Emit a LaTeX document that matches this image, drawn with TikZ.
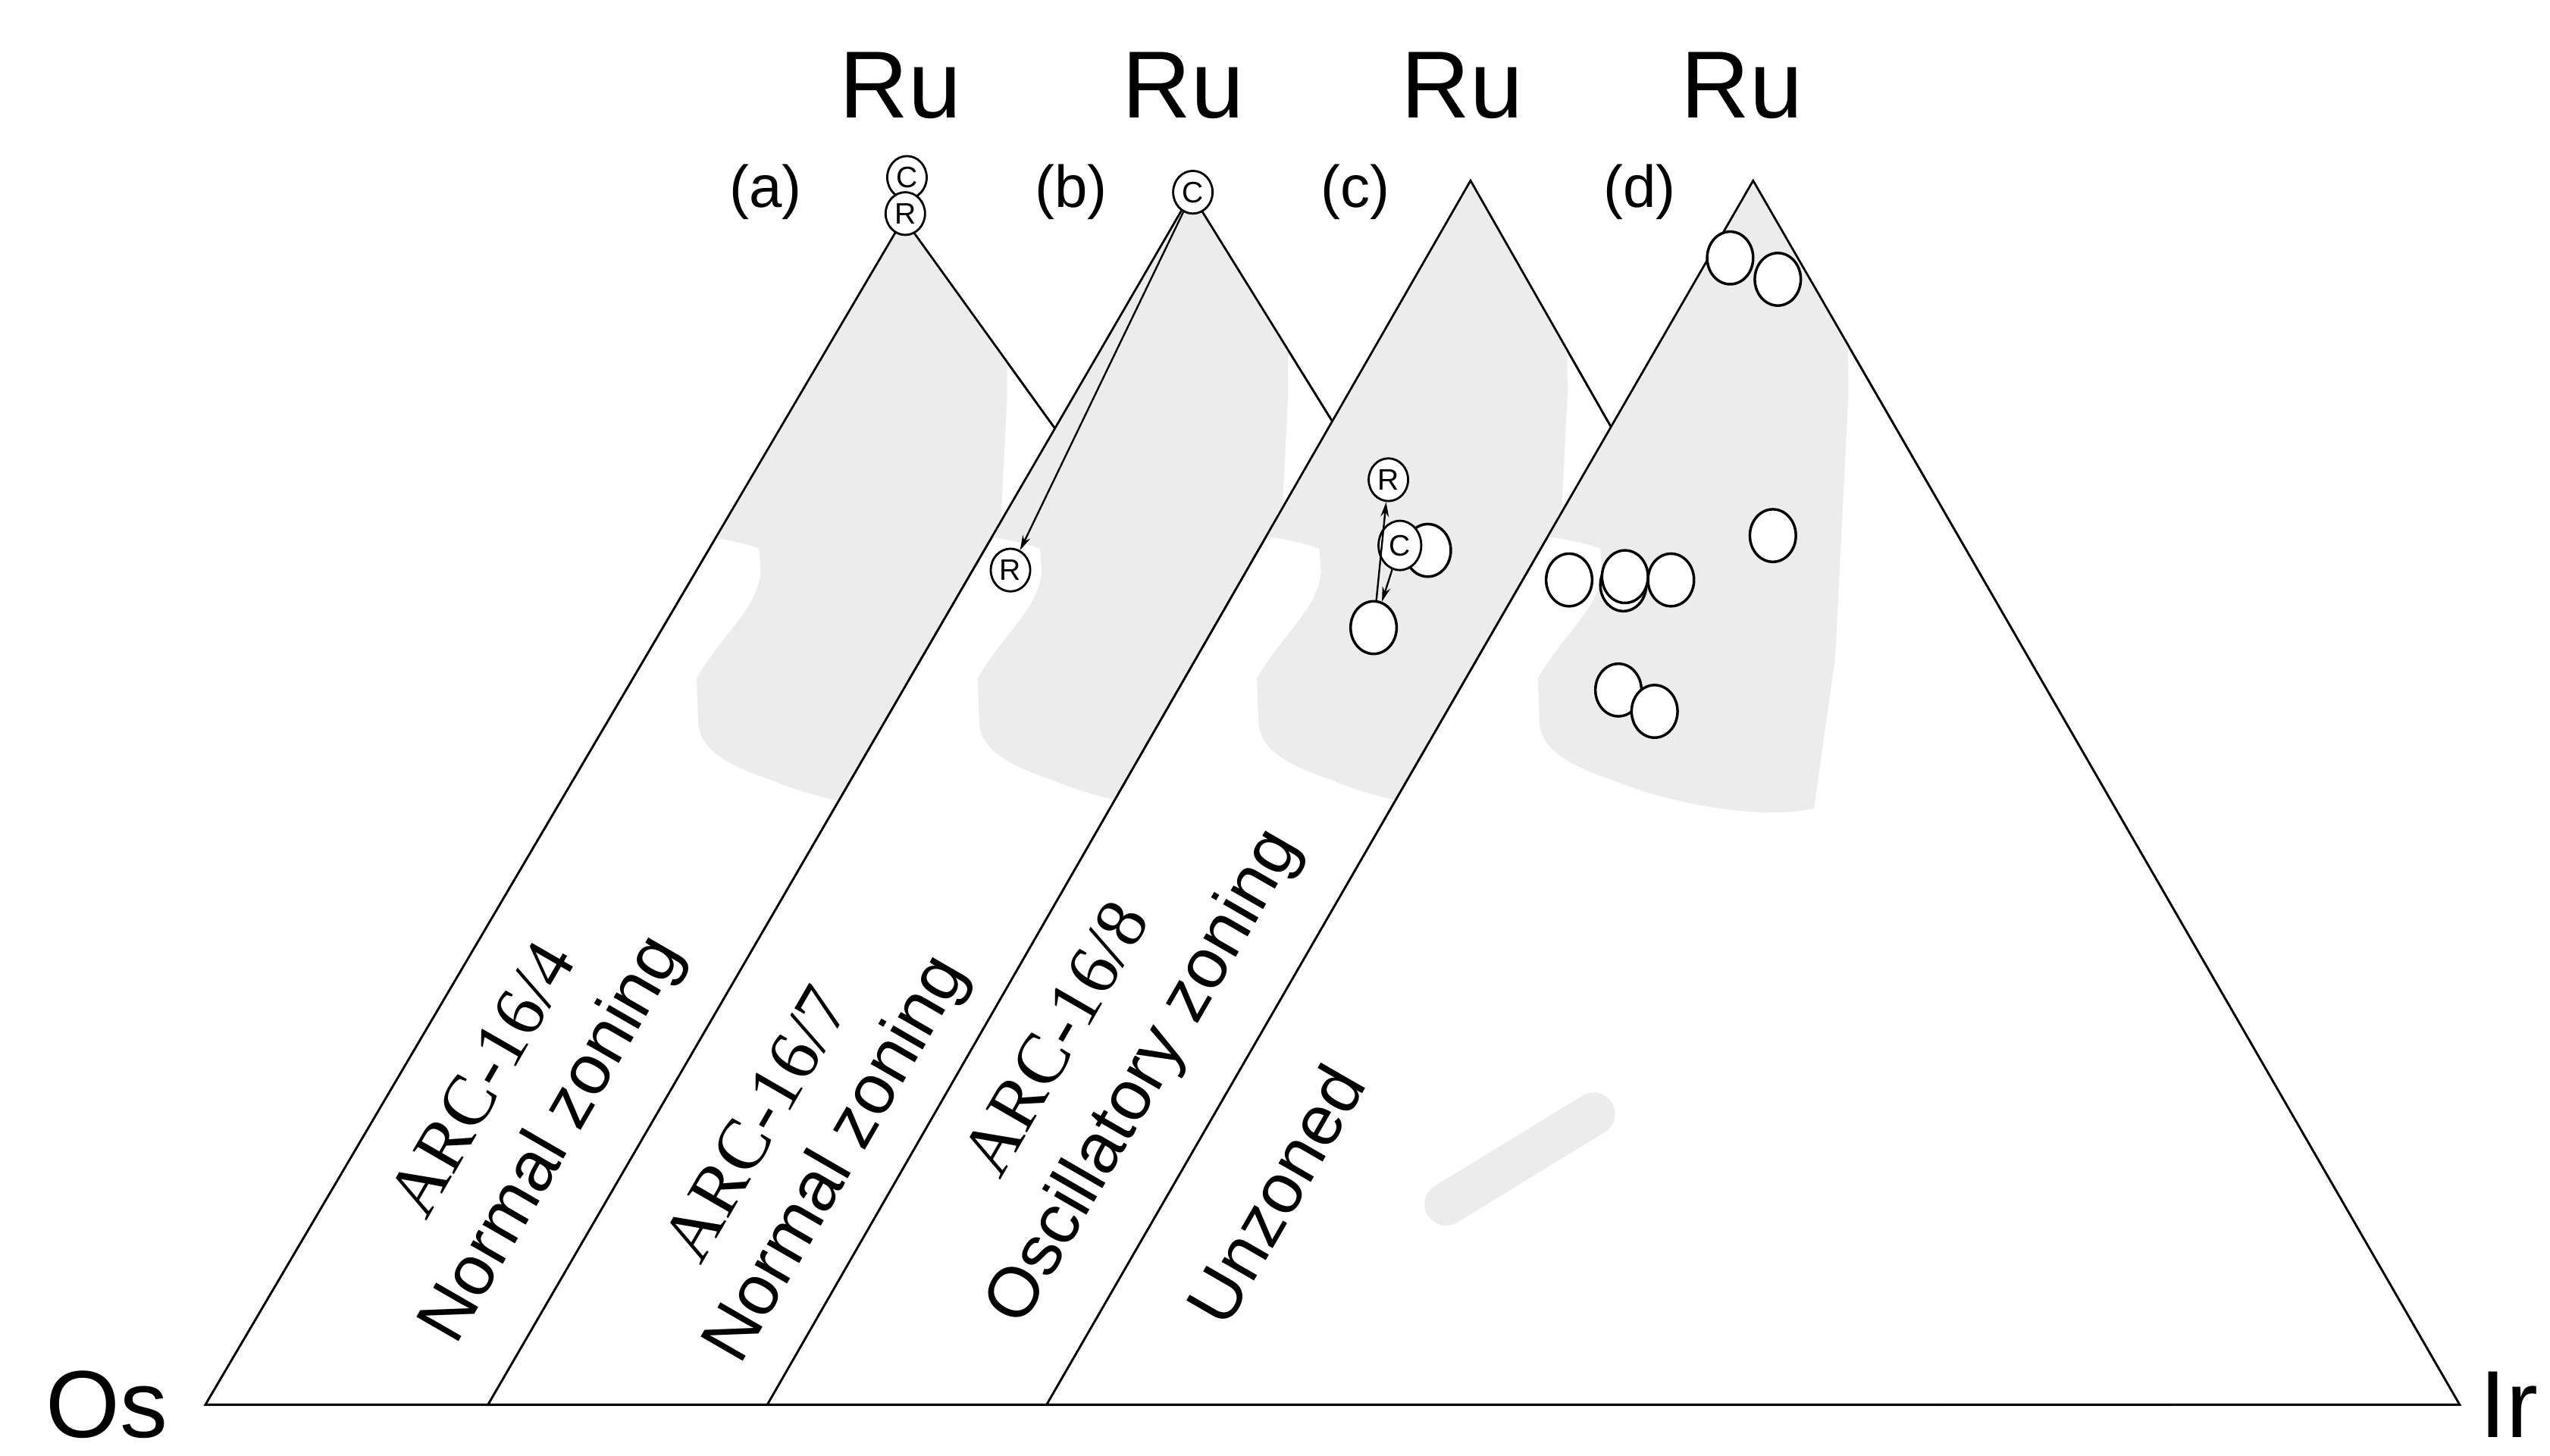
\documentclass[tikz,border=0pt]{standalone}
\usepackage{fontspec}
\setmainfont{Liberation Sans}
\newfontfamily\serifft{Liberation Serif}
\usetikzlibrary{shapes.geometric,arrows.meta}
\begin{document}
\begin{tikzpicture}[x=1pt,y=-1pt,
  tri/.style={draw=black,line width=1.2pt,fill=white,line join=miter},
  blob/.style={fill=gray!15,draw=none},
  pt/.style={ellipse,draw=black,line width=1.6pt,fill=white,minimum width=28pt,minimum height=32pt,inner sep=0pt},
  spt/.style={ellipse,draw=black,line width=1.3pt,fill=white,minimum width=24pt,minimum height=26pt,inner sep=0pt,font=\fontsize{18}{18}\selectfont},
  big/.style={font=\fontsize{58}{60}\selectfont},
  lab/.style={font=\fontsize{36}{40}\selectfont},
  rot/.style={rotate=60,font=\fontsize{43}{46}\selectfont},
  rots/.style={rotate=60,font=\fontsize{44}{46}\serifft},
  arr/.style={line width=1.1pt,-{Stealth[length=9pt,width=5pt]}}]
\useasboundingbox (0,0) rectangle (1552,886);
\def\blobpath#1{(#1+300,90) -- (#1+612,90) -- (#1+613,240) -- (#1+605,400) -- (#1+592,492) .. controls (#1+560,500) and (#1+500,488) .. (#1+470,475) .. controls (#1+440,465) and (#1+426,455) .. (#1+425,440) -- (#1+424,413) .. controls (#1+440,385) and (#1+462,370) .. (#1+463,347) -- (#1+462,334) .. controls (#1+440,325) and (#1+380,320) .. (#1+300,320) -- cycle}
% triangle a
\coordinate (a1) at (125,855); \coordinate (a2) at (550,133); \coordinate (a3) at (1070,855);
\path[tri] (a1) -- (a2) -- (a3) -- cycle;
\begin{scope}\clip (a1) -- (a2) -- (a3) -- cycle; \fill[blob] \blobpath{0}; \end{scope}
\draw[line width=1.2pt] (a1) -- (a2) -- (a3) -- cycle;
% triangle b
\coordinate (b1) at (297,855); \coordinate (b2) at (725,118); \coordinate (b3) at (1182,855);
\path[tri] (b1) -- (b2) -- (b3) -- cycle;
\begin{scope}\clip (b1) -- (b2) -- (b3) -- cycle; \fill[blob] \blobpath{171}; \end{scope}
\draw[line width=1.2pt] (b1) -- (b2) -- (b3) -- cycle;
% triangle c
\coordinate (c1) at (467,855); \coordinate (c2) at (895,110); \coordinate (c3) at (1320,855);
\path[tri] (c1) -- (c2) -- (c3) -- cycle;
\begin{scope}\clip (c1) -- (c2) -- (c3) -- cycle; \fill[blob] \blobpath{341}; \end{scope}
\draw[line width=1.2pt] (c1) -- (c2) -- (c3) -- cycle;
% triangle d
\coordinate (d1) at (637,855); \coordinate (d2) at (1067,110); \coordinate (d3) at (1497,855);
\path[tri] (d1) -- (d2) -- (d3) -- cycle;
\begin{scope}\clip (d1) -- (d2) -- (d3) -- cycle; \fill[blob] \blobpath{512};
\draw[gray!15,line width=26pt,line cap=round] (880,733) -- (970,678); \end{scope}
\draw[line width=1.2pt] (d1) -- (d2) -- (d3) -- cycle;
% labels
\node[big] (ru1) at (548,52) {Ru};
\node[big] (ru2) at (720,52) {Ru};
\node[big] (ru3) at (890,52) {Ru};
\node[big] (ru4) at (1060,52) {Ru};
\node[big] (os) at (65,855) {Os};
\node[big] (ir) at (1527,855) {Ir};
\node[lab] (la) at (466,117) {(a)};
\node[lab] (lb) at (652,117) {(b)};
\node[lab] (lc) at (825,117) {(c)};
\node[lab] (ld) at (998,117) {(d)};
\node[rots] (t1) at (293,657) {ARC-16/4};
\node[rot] (t2) at (337,694) {Normal zoning};
\node[rots] (t3) at (460,684) {ARC-16/7};
\node[rot] (t4) at (510,706) {Normal zoning};
\node[rots] (t5) at (642,632) {ARC-16/8};
\node[rot] (t6) at (697,656) {Oscillatory zoning};
\node[rot] (t7) at (776,727) {Unzoned};
% (a) points
\node[spt] (ac) at (552,108) {C};
\node[spt] (ar) at (551,130) {R};
% (b) points
\node[spt] (bc) at (726,117) {C};
\node[spt] (br) at (615,347) {R};
\draw[arr] (bc) -- (br);
% (c) points
\node[pt] (cc2) at (869,335) {};
\node[spt,minimum width=26pt,minimum height=30pt] (cc) at (852,332) {C};
\node[spt] (cr) at (845,292) {R};
\node[pt] (cp) at (836,382) {};
\draw[arr] (cp) -- (cr);
\draw[arr] (cc) -- (cp);
% (d) points
\node[pt] (d01) at (1053,157) {};
\node[pt] (d02) at (1082,170) {};
\node[pt] (d03) at (1079,326) {};
\node[pt] (d04) at (955,353) {};
\node[pt] (d05) at (988,356) {};
\node[pt] (d06) at (989,351) {};
\node[pt] (d07) at (1017,353) {};
\node[pt] (d08) at (985,420) {};
\node[pt] (d09) at (1007,433) {};
\end{tikzpicture}
\end{document}
